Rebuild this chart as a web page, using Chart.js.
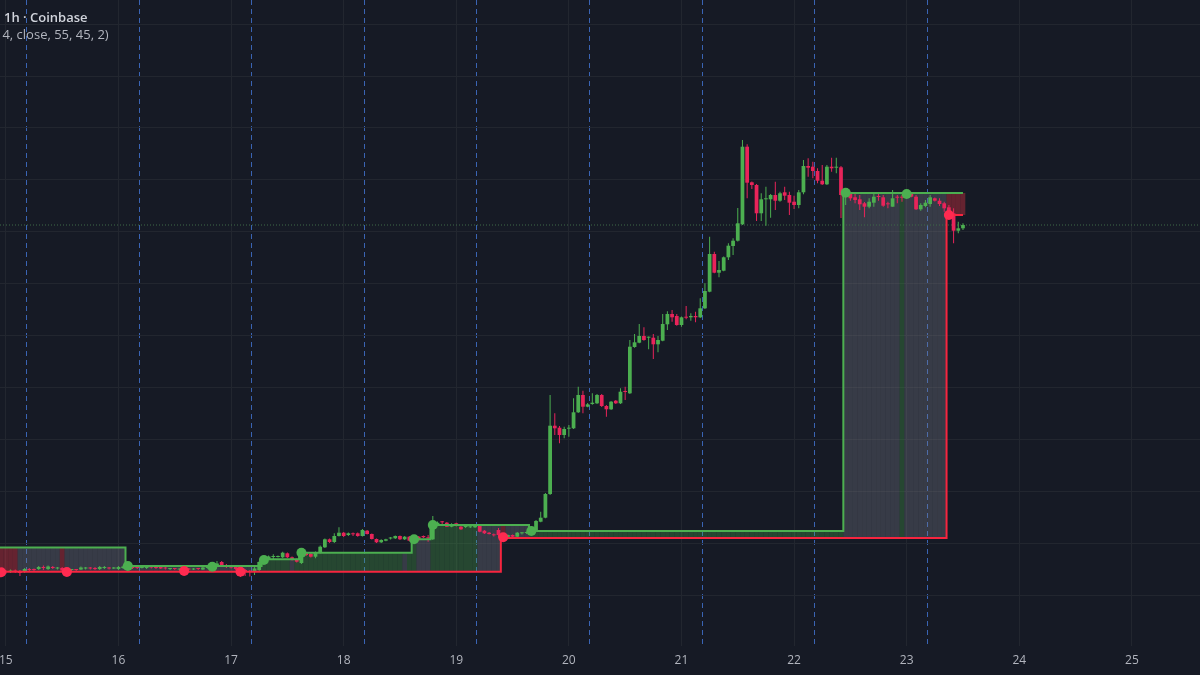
<!DOCTYPE html>
<html>
<head>
<meta charset="utf-8">
<title>1h · Coinbase</title>
<script src="https://cdn.jsdelivr.net/npm/chart.js@4.4.1/dist/chart.umd.min.js"></script>
<style>
  html, body { margin: 0; padding: 0; background: #161a25; }
  #wrap { position: relative; width: 1200px; height: 675px; overflow: hidden; background: #161a25; }
  #chart { position: absolute; left: 0; top: 0; }
  .legend { position: absolute; font-family: "Open Sans", sans-serif; font-size: 13px; white-space: nowrap; line-height: 16px; }
  #title { left: 4px; top: 9px; color: #d1d4dc; font-weight: 600; }
  #study { left: -5px; top: 26px; color: #b2b5be; }
</style>
</head>
<body>
<div id="wrap">
  <canvas id="chart" width="1200" height="675"></canvas>
  <div class="legend" id="title">1h · Coinbase</div>
  <div class="legend" id="study">14, close, 55, 45, 2)</div>
</div>
<script>
// hourly candles, first visible bar is the 14th at 23:00
const barStart = 14 + 23 / 24;
const HOUR = 1 / 24;

const opens = [
  76, 75, 74, 75.5, 75, 74, 77, 76.5, 77, 78.5, 77, 79,
  77.5, 78, 75.5, 76, 76.5, 76.5, 77.5, 78, 78, 77, 78, 78.5,
  77.5, 77, 78, 79.5, 79, 79, 78, 78, 79.5, 79, 79, 78.5,
  77, 77.5, 76.5, 77, 77.5, 76.5, 77.5, 76.5, 78, 79, 79.5, 84,
  81, 79.5, 79, 77, 76, 75, 74, 76, 83, 87, 89, 89,
  88.7, 92.7, 88.7, 86.7, 83, 93.3, 92, 89.3, 93.3, 98.7, 106.7, 104,
  110, 113.3, 111, 112, 112.7, 110, 115.3, 112, 107, 103.7, 105.3, 107.5,
  107.7, 110, 106.7, 109.3, 106, 109.3, 110, 108, 106.7, 121, 124, 123.3,
  119.3, 122.7, 119.3, 119, 118.7, 118.7, 121, 115.3, 113.3, 111, 116, 111,
  108, 111, 109.3, 112.7, 113, 112.7, 116, 124.3, 128.3, 152, 220.3, 218.3,
  211, 217.3, 217.7, 233.7, 251, 239.3, 242, 242.7, 251, 240, 236.7, 245.3,
  242.7, 254.3, 252.7, 299, 303.3, 310, 308.3, 308.3, 301.7, 305.3, 321.7, 332,
  330, 321, 328.7, 328.7, 330, 328.7, 337.7, 354.3, 392, 373.3, 375.3, 388.7,
  400, 405.3, 421.7, 499.3, 463.7, 461, 432.7, 446.7, 446.7, 451, 445.3, 453.7,
  451, 444.3, 441, 453.7, 480, 479.3, 475, 465.3, 461.7, 479.3, 478.3, 478.7,
  450, 452.7, 448.7, 446.7, 442.7, 439.3, 443.3, 449.3, 448.7, 442, 439.3, 448.7,
  448.7, 449.3, 452.7, 449.3, 436.7, 440, 442, 447.7, 445.3, 442.7, 438.7, 432.7,
  415.3, 417.7
];
const highs = [
  77, 76, 76.5, 76.5, 76, 78, 78, 77.5, 80, 80.5, 80.5, 80,
  79, 79, 77.5, 77, 77, 79.5, 79, 79, 79, 80, 80, 79,
  79, 80, 80.5, 80, 80, 79.5, 79.5, 81, 80.5, 79.5, 79.5, 79,
  78, 78, 77.5, 77.5, 78, 78, 78, 79.5, 80, 80.5, 85, 85,
  82, 80, 80, 78, 77, 76, 79, 85, 90, 90.5, 91.7, 90.5,
  94.3, 93.5, 89.5, 87.5, 97, 94, 93, 94.5, 100.5, 107.5, 107.5, 112.7,
  118.7, 114, 113.5, 113.5, 113.5, 117, 116, 112.5, 107.5, 106.7, 107.3, 109,
  110.5, 110.5, 110, 110, 107.5, 110, 110.5, 111, 130, 124.5, 125, 124,
  122.7, 123.3, 120, 120.5, 120.5, 121.5, 121.5, 116, 114, 112.5, 118, 112,
  111.5, 111.5, 114, 114, 114.5, 120, 126, 134.3, 153, 251, 232.7, 220,
  219.3, 221, 247.7, 259.3, 255.3, 243, 252.7, 252, 252, 241, 245, 246,
  257.7, 259.3, 306, 312, 322, 318.7, 309.5, 312, 310, 332, 334.7, 336,
  332, 329.5, 340, 332.7, 334.3, 347.7, 362.7, 409.3, 394.3, 385, 389.5, 402.7,
  407.7, 438, 506, 501.7, 464.5, 462, 452.7, 459.3, 452, 464.3, 454.3, 459.3,
  454.3, 450.3, 456, 486, 487.7, 484.3, 477.7, 481, 481, 488.3, 488.3, 480,
  454, 454.3, 452, 451, 444, 447.7, 452, 452, 451, 444.3, 456, 451,
  451, 454, 453.5, 451, 442.7, 446, 451, 448.5, 447.7, 444.3, 441, 437.7,
  424.3, 422.7
];
const lows = [
  73, 72, 73, 73, 70, 73, 75, 75, 76, 76, 76, 77,
  76.5, 74, 75, 75, 75, 76, 76.5, 76.5, 76, 76, 77, 76.5,
  77, 76, 77, 77.5, 77, 77, 77.5, 77, 77.5, 77, 77, 76.5,
  76, 76, 75.5, 75, 76, 76, 76, 76, 77.5, 78.5, 79, 80,
  78, 77.5, 76, 69, 70, 69.5, 71, 75, 82, 86.5, 86.7, 88.5,
  88, 88, 85.5, 83.5, 82, 90, 88.5, 87.7, 92.5, 98, 103, 103,
  109.5, 109, 110, 110, 109.3, 109.5, 111.5, 106.5, 103, 103, 104.7, 106.5,
  107, 106, 106, 104.7, 105.5, 105.3, 108, 104.3, 106, 120.5, 122, 119,
  118.7, 119.5, 116, 118, 118, 118, 113.7, 112, 111.5, 109.5, 109, 109,
  107.5, 109, 109, 111.5, 112, 112, 115.5, 123.7, 127.7, 151, 211, 202.7,
  207.7, 209.3, 217, 233, 232.7, 238.7, 241.3, 242, 239, 229.3, 236, 242,
  242, 246, 252, 298.3, 302.7, 305.3, 296.7, 287, 293.7, 304.7, 316, 324.3,
  320.3, 319.3, 326.7, 325.3, 323.7, 328, 337, 353.7, 372.7, 368.7, 374.7, 386,
  391, 404.5, 421, 447.7, 457, 425, 425, 420.3, 428.3, 436, 444.3, 446,
  431, 437, 437.7, 451.7, 469.3, 467.7, 462.7, 461, 461, 474.3, 472.7, 428,
  441, 445.3, 442.7, 436, 428.7, 437.7, 439.3, 445.3, 439.3, 437.7, 439.3, 442.7,
  444.3, 448.5, 448.7, 436, 435.3, 438.7, 439.3, 444.5, 440, 434.3, 432, 402.7,
  412.7, 416
];
const closes = [
  74, 74, 75.5, 74.5, 73, 77, 76, 76, 79, 78, 79.5, 78,
  78, 75.5, 76.5, 76.5, 76, 78.5, 78, 77.5, 77, 79, 78.5, 77.5,
  78.5, 79, 79.5, 78.5, 78, 78, 79, 80, 78.5, 78, 77.5, 77.5,
  77.5, 77, 77, 76, 76.5, 77, 77, 78.5, 79, 79.5, 82.5, 81,
  79, 78.5, 77, 74.5, 74, 74, 77.5, 84, 89, 89.5, 89.5, 89.5,
  93.3, 88.7, 86, 84.3, 96, 91, 89.3, 93.3, 99.3, 106.7, 104, 110,
  113.3, 110, 112.7, 111.7, 110, 116, 112, 107, 103.7, 106, 106.7, 107.7,
  110, 106.7, 109.3, 105.3, 106.7, 106, 108.7, 107.7, 122.7, 123.3, 123.7, 119.3,
  122, 120, 116.7, 119.3, 119.7, 121, 114.3, 112.7, 112, 110.7, 111, 110.7,
  111, 109.3, 113.3, 113, 113.3, 118.7, 125, 128.3, 152, 220.3, 217.7, 211,
  217, 217.7, 233.7, 251, 239.3, 241.7, 243.3, 251, 240, 236.7, 244.3, 242.7,
  254.3, 254, 299.3, 303.7, 310, 306, 308.7, 301.7, 306, 322, 332, 328.7,
  321, 328.7, 328.3, 330, 328.7, 337.7, 355, 392, 373.3, 376, 388.7, 400.3,
  405.3, 422.7, 499.3, 463.3, 461, 432.7, 446.7, 447, 451, 445.3, 452.7, 450.3,
  443.3, 441, 453.7, 480, 478.3, 475, 465.3, 461.7, 479.3, 477.7, 478.7, 451,
  453, 447.7, 446, 441.7, 439.3, 444.3, 449.3, 449, 440.3, 441.7, 447.7, 448.3,
  448.3, 452.7, 449.3, 436.7, 441, 443.3, 448.7, 445.3, 442, 437.7, 432.7, 415.3,
  417.7, 421
];

// indicator: upper (green) and lower (red) step levels, by starting bar index
const upperStartIdx = [0, 27, 56, 64, 88, 92, 113, 180];
const upperLevels = [98.5, 80, 86.7, 93.3, 106.7, 121, 115, 453];
const lowerStartIdx = [0, 107, 202];
const lowerLevels = [74.3, 108, 431];

// zone colour between the two levels, by starting bar index
const zoneStartIdx = [0, 4, 13, 14, 56, 62, 63, 86, 87, 89, 92, 102, 107, 108, 113, 180, 192, 193, 202];
const zoneStates = ['bear', 'neutral', 'bear', 'neutral', 'bull', 'neutral', 'bull', 'neutral', 'bull',
  'neutral', 'bull', 'neutral', 'bear', 'neutral', 'bull', 'neutral', 'bull', 'neutral', 'bear'];

// pivot markers
const highPivotIdx = [27, 45, 56, 64, 88, 92, 113, 180, 193];
const highPivotValues = [80, 79.3, 86, 93.3, 106.7, 121, 115, 453.3, 452];
const lowPivotIdx = [0, 14, 39, 51, 107, 202];
const lowPivotValues = [73.7, 74, 75, 74.3, 108.7, 431];

// time axis
const dayTicks = [15, 16, 17, 18, 19, 20, 21, 22, 23, 24, 25];
const dayLabels = ['15', '16', '17', '18', '19', '20', '21', '22', '23', '24', '25'];
const sessionDays = [15, 16, 17, 18, 19, 20, 21, 22, 23];
const SESSION_OFFSET = 0.183;

const X_MIN = 14.948;
const X_MAX = 25.605;
const GRID_BASE = 51;
const GRID_STEP = 51.9;

const UP = '#4caf50';
const DOWN = '#e8245a';
const zoneColors = {
  bear: 'rgba(242, 54, 69, 0.36)',
  neutral: 'rgba(128, 131, 143, 0.32)',
  bull: 'rgba(76, 175, 80, 0.3)',
};

const barTimes = opens.map((_, i) => barStart + i * HOUR);
const lastIdx = opens.length - 1;

function levelAt(starts, levels, i) {
  let v = levels[0];
  starts.forEach((s, j) => { if (s <= i) v = levels[j]; });
  return v;
}

function stepPoints(starts, levels) {
  const pts = starts.map((s, j) => ({ x: j === 0 ? X_MIN : barTimes[s] - HOUR / 2, y: levels[j] }));
  pts.push({ x: barTimes[lastIdx], y: levels[levels.length - 1] });
  return pts;
}

const candleColors = opens.map((o, i) => (closes[i] >= o ? UP : DOWN));
const zoneBars = barTimes.map((t, i) => ({
  x: t,
  y: [levelAt(lowerStartIdx, lowerLevels, i), levelAt(upperStartIdx, upperLevels, i)],
}));
const zoneBarColors = barTimes.map((_, i) => zoneColors[levelAt(zoneStartIdx, zoneStates, i)]);

const ctx = document.getElementById('chart').getContext('2d');
Chart.defaults.font.family = '"Open Sans", sans-serif';

new Chart(ctx, {
  data: {
    datasets: [
      {
        type: 'bar',
        data: zoneBars,
        backgroundColor: zoneBarColors,
        barPercentage: 1,
        categoryPercentage: 1,
        inflateAmount: 0,
        grouped: false,
        order: 10,
      },
      {
        type: 'line',
        data: [{ x: X_MIN, y: closes[lastIdx] }, { x: X_MAX, y: closes[lastIdx] }],
        borderColor: '#3f6b48',
        borderWidth: 1,
        borderDash: [1, 2],
        pointRadius: 0,
        order: 9,
      },
      {
        type: 'bar',
        data: barTimes.map((t, i) => ({ x: t, y: [lows[i], highs[i]] })),
        backgroundColor: candleColors,
        barThickness: 1,
        inflateAmount: 0,
        grouped: false,
        order: 8,
      },
      {
        type: 'bar',
        data: barTimes.map((t, i) => ({ x: t, y: [opens[i], closes[i]] })),
        backgroundColor: candleColors,
        barPercentage: 0.8,
        categoryPercentage: 1,
        minBarLength: 1,
        inflateAmount: 0,
        grouped: false,
        order: 7,
      },
      {
        type: 'line',
        data: stepPoints(lowerStartIdx, lowerLevels),
        stepped: true,
        borderColor: '#f7253f',
        borderWidth: 2,
        pointRadius: 0,
        order: 6,
      },
      {
        type: 'line',
        data: stepPoints(upperStartIdx, upperLevels),
        stepped: true,
        borderColor: UP,
        borderWidth: 2,
        pointRadius: 0,
        order: 5,
      },
      {
        type: 'line',
        data: highPivotIdx.map((idx, j) => ({ x: barTimes[idx], y: highPivotValues[j] })),
        showLine: false,
        pointRadius: 5,
        pointBackgroundColor: UP,
        pointBorderWidth: 0,
        order: 2,
      },
      {
        type: 'line',
        data: lowPivotIdx.map((idx, j) => ({ x: barTimes[idx], y: lowPivotValues[j] })),
        showLine: false,
        pointRadius: 5,
        pointBackgroundColor: '#ff2a50',
        pointBorderWidth: 0,
        order: 1,
      },
    ],
  },
  options: {
    responsive: false,
    animation: false,
    devicePixelRatio: 1,
    layout: { padding: 0, autoPadding: false },
    plugins: { legend: { display: false }, tooltip: { enabled: false } },
    scales: {
      x: {
        type: 'linear',
        min: X_MIN,
        max: X_MAX,
        offset: false,
        afterBuildTicks: (scale) => { scale.ticks = dayTicks.map((v) => ({ value: v })); },
        afterFit: (scale) => { scale.height = 29; scale.paddingLeft = 0; scale.paddingRight = 0; },
        ticks: {
          autoSkip: false,
          maxRotation: 0,
          padding: 7,
          color: '#b2b5be',
          font: { size: 12 },
          callback: (v) => dayLabels[dayTicks.indexOf(v)],
        },
        grid: { color: '#22262f', drawTicks: false, offset: false },
        border: { display: false },
      },
      sessions: {
        type: 'linear',
        position: 'bottom',
        min: X_MIN,
        max: X_MAX,
        offset: false,
        afterBuildTicks: (scale) => { scale.ticks = sessionDays.map((d) => ({ value: d + SESSION_OFFSET })); },
        afterFit: (scale) => { scale.height = 0; scale.paddingLeft = 0; scale.paddingRight = 0; },
        ticks: { display: false },
        grid: { color: '#3a64b4', drawTicks: false, offset: false },
        border: { display: false, dash: [5, 4] },
      },
      y: {
        type: 'linear',
        position: 'right',
        min: 0,
        max: 646,
        afterBuildTicks: (scale) => {
          const t = [];
          for (let v = GRID_BASE; v < 646; v += GRID_STEP) t.push({ value: v });
          scale.ticks = t;
        },
        afterFit: (scale) => { scale.width = 0; },
        ticks: { display: false },
        grid: { color: '#22262f', drawTicks: false },
        border: { display: false },
      },
    },
  },
});
</script>
</body>
</html>
